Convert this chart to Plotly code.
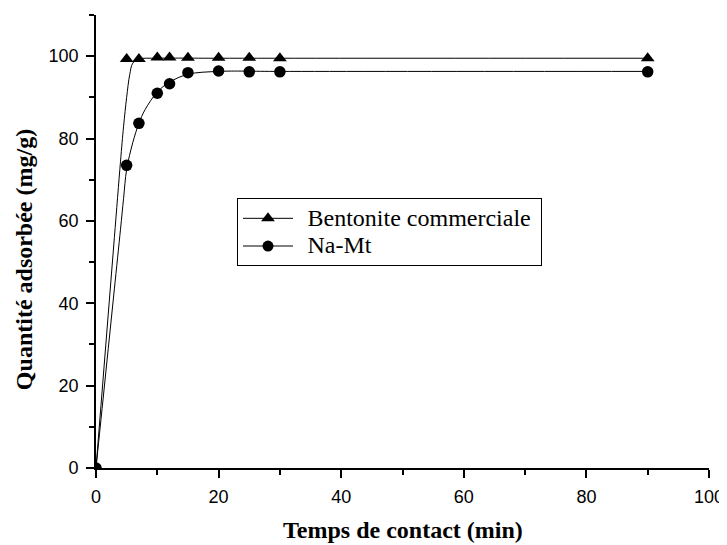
import plotly.graph_objects as go

# measured data
t_data = [0, 5, 7, 10, 12, 15, 20, 25, 30, 90]
bentonite = [0, 99.3, 99.3, 99.7, 99.7, 99.6, 99.6, 99.6, 99.5, 99.5]
namt = [0, 73.5, 83.7, 91.0, 93.3, 96.0, 96.4, 96.2, 96.2, 96.2]

# fitted curves
fit_t_bent = [0, 1, 2, 3, 4, 4.5, 5, 5.5, 6, 7, 10, 20, 90]
fit_bent = [0, 18.7, 37.4, 56, 74.5, 83, 90, 95.5, 98.3, 99.3, 99.5, 99.5, 99.5]
fit_t_namt = [0, 1, 2, 3, 4, 4.5, 5, 6, 7, 8, 10, 12, 15, 20, 30, 90]
fit_namt = [0, 14.5, 29, 43.5, 58, 65.5, 72.5, 79, 83.7, 87, 91.3, 93.7, 95.6, 96.3, 96.3, 96.3]

x_ticks = [0, 20, 40, 60, 80, 100]
y_ticks = [0, 20, 40, 60, 80, 100]

series_names = ["Bentonite commerciale", "Na-Mt"]
x_title = "Temps de contact (min)"
y_title = "Quantité adsorbée (mg/g)"

SERIF = "Liberation Serif, Times New Roman, serif"
SANS = "Liberation Sans, Arial, sans-serif"

fig = go.Figure()
line_style = dict(color="black", width=1)

fig.add_trace(go.Scatter(x=fit_t_bent, y=fit_bent, mode="lines", line=line_style,
                         line_shape="spline", showlegend=False, hoverinfo="skip"))
fig.add_trace(go.Scatter(x=fit_t_namt, y=fit_namt, mode="lines", line=line_style,
                         line_shape="spline", showlegend=False, hoverinfo="skip"))
fig.add_trace(go.Scatter(x=t_data, y=bentonite, mode="markers", showlegend=False,
                         marker=dict(symbol="triangle-up", size=12, color="black")))
fig.add_trace(go.Scatter(x=t_data, y=namt, mode="markers", showlegend=False,
                         marker=dict(symbol="circle", size=11.5, color="black")))


def legend_label(name):
    return '&nbsp;&nbsp;<span style="font-size:24px">' + name + "</span>&nbsp;"


# legend entries
fig.add_trace(go.Scatter(x=[None], y=[None], mode="lines+markers", name=legend_label(series_names[0]),
                         line=line_style, marker=dict(symbol="triangle-up", size=12, color="black")))
fig.add_trace(go.Scatter(x=[None], y=[None], mode="lines+markers", name=legend_label(series_names[1]),
                         line=line_style, marker=dict(symbol="circle", size=11, color="black")))

axis_common = dict(
    showline=True, linecolor="black", linewidth=1.6, mirror=False,
    ticks="outside", ticklen=8, tickwidth=1.6, tickcolor="black",
    showgrid=False, zeroline=False, automargin=False,
    tickfont=dict(family=SANS, size=18, color="black"),
    minor=dict(ticks="outside", ticklen=5, tickwidth=1.6, tickcolor="black", dtick=10),
)

# the page body has an 8px margin, so the figure is sized/offset to compensate
fig.update_layout(
    width=719, height=537,
    margin=dict(l=88, r=18, t=7, b=77),
    plot_bgcolor="white", paper_bgcolor="white",
    xaxis=dict(range=[0, 100], tickvals=x_ticks, ticklabelstandoff=4, **axis_common),
    yaxis=dict(range=[0, 110], tickvals=y_ticks, ticklabelstandoff=4, **axis_common),
    legend=dict(x=0.23, y=0.595, xanchor="left", yanchor="top",
                bordercolor="black", borderwidth=1, bgcolor="white",
                font=dict(family=SERIF, size=19, color="black"),
                itemwidth=50, tracegroupgap=0),
    showlegend=True,
    annotations=[
        dict(text="<b>" + x_title + "</b>", xref="paper", yref="paper",
             x=0.5, y=-0.137, xanchor="center", yanchor="middle", showarrow=False,
             font=dict(family=SERIF, size=24, color="black")),
        dict(text="<b>" + y_title + "</b>", xref="paper", yref="paper",
             x=-0.1175, y=0.461, xanchor="center", yanchor="middle", showarrow=False,
             textangle=-90, font=dict(family=SERIF, size=24, color="black")),
    ],
)

fig.write_html("out.html")
